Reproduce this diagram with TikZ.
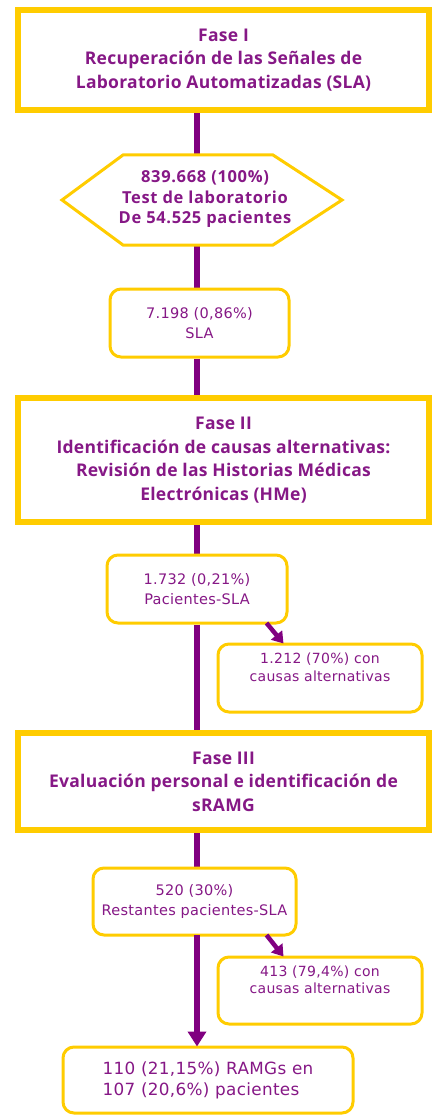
\documentclass[tikz,border=0pt]{standalone}
\usepackage{fontspec}
\setmainfont{Open Sans}
\newfontfamily\regfont[LetterSpace=2]{DejaVu Sans}
\newfontfamily\headfont[LetterSpace=1.5]{Open Sans}
\newfontfamily\hexfont[LetterSpace=4]{Open Sans}
\usetikzlibrary{arrows.meta,backgrounds,positioning}
\definecolor{gold}{HTML}{FFCC00}
\definecolor{purp}{HTML}{800080}
\definecolor{ptext}{HTML}{861886}
\tikzset{
  phasebox/.style={draw=gold, line width=5.5pt, fill=white, inner sep=0pt, align=center,
     text=ptext, font=\headfont\bfseries\fontsize{17.5}{23.5}\selectfont},
  smallbox/.style={draw=gold, line width=3pt, fill=white, rounded corners=11pt, inner sep=0pt,
     align=center, text=ptext, font=\regfont\fontsize{14.5}{20}\selectfont},
  conn/.style={draw=purp, line width=6pt},
  mainarrow/.style={draw=purp, line width=6pt, -{Triangle[length=15pt,width=18pt]}},
  diagarrow/.style={draw=purp, line width=4.5pt, -{Triangle[length=11pt,width=14pt]}},
}
\begin{document}
\begin{tikzpicture}[x=1pt,y=-1pt]
\useasboundingbox (0,0) rectangle (432,1115);
\coordinate (lx) at (197,0);
% Phase boxes
\node[phasebox, minimum width=411pt, minimum height=100pt] (f1) at (223.5,60)
  {Fase I\\Recuperación de las Señales de\\Laboratorio Automatizadas (SLA)};
\node[phasebox, minimum width=411pt, minimum height=124pt] (f2) at (223.5,460)
  {Fase II\\Identificación de causas alternativas:\\Revisión de las Historias Médicas\\Electrónicas (HMe)};
\node[phasebox, minimum width=411pt, minimum height=97pt] (f3) at (223.5,781.5)
  {Fase III\\Evaluación personal e identificación de\\sRAMG};
% Hexagon
\draw[gold, line width=3pt, fill=white] (62,200) -- (123,155) -- (273,155) -- (342,200) -- (273,245) -- (123,245) -- cycle;
\node[align=center, text=ptext, font=\hexfont\bfseries\fontsize{16.5}{20}\selectfont, inner sep=0pt,
  minimum width=280pt, minimum height=90pt] (hex) at (205,199)
  {839.668 (100\%)\\Test de laboratorio\\De 54.525 pacientes};
% Small boxes
\node[smallbox, minimum width=179pt, minimum height=68pt] (sla) at (199.5,323) {7.198 (0,86\%)\\SLA};
\node[smallbox, minimum width=180pt, minimum height=68pt] (p1) at (197,589) {1.732 (0,21\%)\\Pacientes-SLA};
\node[smallbox, minimum width=204pt, minimum height=68pt, font=\regfont\fontsize{14}{17.5}\selectfont] (c1) at (320,678)
  {1.212 (70\%) con\\causas alternativas\\[4pt]};
\node[smallbox, minimum width=203pt, minimum height=67pt] (p2) at (194.5,901.5) {520 (30\%)\\Restantes pacientes-SLA};
\node[smallbox, minimum width=204pt, minimum height=67pt, font=\regfont\fontsize{14}{17.5}\selectfont] (c2) at (320,990.5)
  {413 (79,4\%) con\\causas alternativas\\[4pt]};
\node[smallbox, minimum width=290pt, minimum height=66pt, align=left, font=\regfont\fontsize{16.8}{21}\selectfont] (fin) at (208,1080)
  {110 (21,15\%) RAMGs en\\107 (20,6\%) pacientes};
% Connectors
\begin{scope}[on background layer]
\draw[conn] (f1.south -| lx) -- (hex.north -| lx);
\draw[conn] (hex.south -| lx) -- (sla.north -| lx);
\draw[conn] (sla.south -| lx) -- (f2.north -| lx);
\draw[conn] (f2.south -| lx) -- (p1.north -| lx);
\draw[conn] (p1.south -| lx) -- (f3.north -| lx);
\draw[conn] (f3.south -| lx) -- (p2.north -| lx);
\end{scope}
\draw[mainarrow] ([yshift=1.5pt]p2.south -| lx) -- ([yshift=-1pt]fin.north -| lx);
\draw[diagarrow] ([xshift=-22pt,yshift=1.5pt]p1.south east) -- ([xshift=67pt,yshift=-1pt]c1.north west);
\draw[diagarrow] ([xshift=-31pt,yshift=1.5pt]p2.south east) -- ([xshift=67pt,yshift=-1pt]c2.north west);
\end{tikzpicture}
\end{document}
